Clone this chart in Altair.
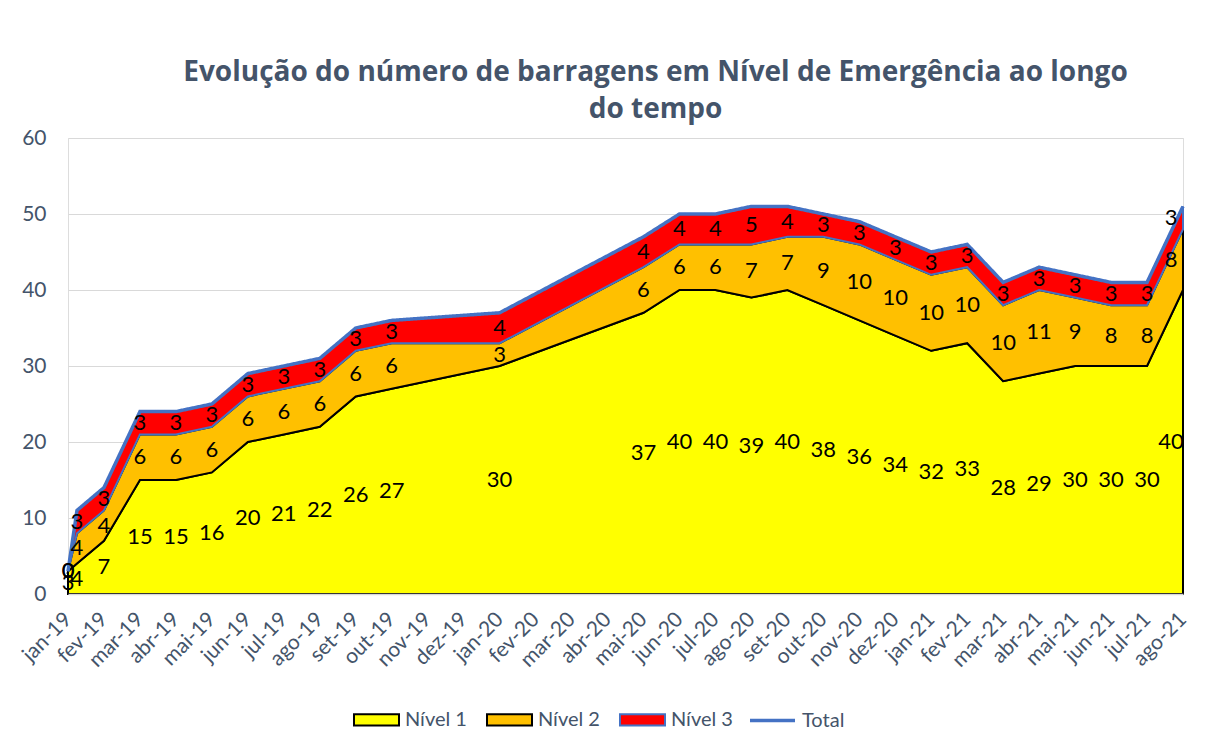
import altair as alt
import pandas as pd

# ---- data ----
meses = ['jan-19', 'fev-19', 'mar-19', 'abr-19', 'mai-19', 'jun-19', 'jul-19', 'ago-19',
         'set-19', 'out-19', 'nov-19', 'dez-19', 'jan-20', 'fev-20', 'mar-20', 'abr-20',
         'mai-20', 'jun-20', 'jul-20', 'ago-20', 'set-20', 'out-20', 'nov-20', 'dez-20',
         'jan-21', 'fev-21', 'mar-21', 'abr-21', 'mai-21', 'jun-21', 'jul-21', 'ago-21']

# position of each observation in months since jan-19
pos = [0, 0.25, 1, 2, 3, 4, 5, 6, 7, 8, 9, 12,
       16, 17, 18, 19, 20, 21, 22, 23, 24, 25, 26, 27, 28, 29, 30, 31]
nivel1 = [3, 4, 7, 15, 15, 16, 20, 21, 22, 26, 27, 30,
          37, 40, 40, 39, 40, 38, 36, 34, 32, 33, 28, 29, 30, 30, 30, 40]
nivel2 = [0, 4, 4, 6, 6, 6, 6, 6, 6, 6, 6, 3,
          6, 6, 6, 7, 7, 9, 10, 10, 10, 10, 10, 11, 9, 8, 8, 8]
nivel3 = [0, 3, 3, 3, 3, 3, 3, 3, 3, 3, 3, 4,
          4, 4, 4, 5, 4, 3, 3, 3, 3, 3, 3, 3, 3, 3, 3, 3]

series = ['Nível 1', 'Nível 2', 'Nível 3']
cores = ['#FFFF00', '#FFC000', '#FF0000']
bordas = ['#000000', '#000000', '#4472C4']
cor_total = '#4472C4'
cor_texto = '#44546A'

titulo = ['Evolução do número de barragens em Nível de Emergência ao longo', 'do tempo']

# ---- tables ----
rows = []
for i, p in enumerate(pos):
    base = 0
    for k, (s, v) in enumerate(zip(series, [nivel1[i], nivel2[i], nivel3[i]])):
        rows.append({'pos': p, 'serie': s, 'valor': v, 'meio': base + v / 2, 'ordem': k})
        base += v
df = pd.DataFrame(rows)
df_total = pd.DataFrame({'pos': pos,
                         'total': [a + b + c for a, b, c in zip(nivel1, nivel2, nivel3)],
                         'serie': 'Total'})

label_expr = '[' + ','.join("'%s'" % m for m in meses) + '][datum.value]'

x_enc = alt.X('pos:Q',
              scale=alt.Scale(domain=[0, 31], nice=False, zero=False),
              axis=alt.Axis(values=list(range(32)), labelExpr=label_expr, labelAngle=-45,
                            labelAlign='right', labelBaseline='middle', labelPadding=22,
                            labelOverlap=False, labelFlush=False, labelBound=False,
                            labelFont='Lato', labelFontSize=21, labelColor=cor_texto,
                            ticks=False, grid=False, domainColor='#D9D9D9', domainWidth=1.5,
                            title=None, zindex=1))
y_scale = alt.Scale(domain=[0, 60], nice=False)
y_axis = alt.Axis(values=list(range(0, 61, 10)), labelFont='Lato', labelFontSize=21,
                  labelColor=cor_texto, labelPadding=22, domain=False, ticks=False,
                  gridColor='#D9D9D9', gridWidth=1, title=None)

sym_rect = 'M-1,-0.25H1V0.25H-1Z'
sym_linha = 'M-1,0H1'

leg_niveis = alt.Legend(title=None, orient='none', legendX=285, legendY=558,
                        direction='horizontal', symbolType=sym_rect,
                        symbolSize=2025, symbolStrokeWidth=2,
                        labelFont='Lato', labelFontSize=20,
                        labelColor=cor_texto, labelOffset=5,
                        columnPadding=16, padding=0)

areas = alt.Chart(df).mark_area(strokeWidth=2, opacity=1).encode(
    x=x_enc,
    y=alt.Y('valor:Q', stack='zero', scale=y_scale, axis=y_axis),
    order=alt.Order('ordem:Q'),
    color=alt.Color('serie:N', scale=alt.Scale(domain=series, range=cores), legend=leg_niveis),
    stroke=alt.Stroke('serie:N', scale=alt.Scale(domain=series, range=bordas), legend=leg_niveis),
)

linha = alt.Chart(df_total).mark_line(strokeWidth=3.5).encode(
    x=x_enc,
    y=alt.Y('total:Q', scale=y_scale, axis=y_axis),
    strokeDash=alt.StrokeDash('serie:N', scale=alt.Scale(domain=['Total'], range=[[1, 0]]),
                              legend=alt.Legend(title=None, orient='none', legendX=680,
                                                legendY=558, symbolType=sym_linha,
                                                symbolSize=2025, symbolStrokeWidth=3.5,
                                                symbolStrokeColor=cor_total,
                                                labelFont='Lato', labelFontSize=20,
                                                labelColor=cor_texto, labelOffset=5,
                                                padding=0)),
    color=alt.value(cor_total),
)

rotulos = alt.Chart(df).transform_filter('datum.pos < 31').mark_text(
    font='Lato', fontSize=22, color='#000000', baseline='middle', align='center'
).encode(x=x_enc, y=alt.Y('meio:Q', scale=y_scale, axis=y_axis), text='valor:Q')

rotulos_fim = alt.Chart(df).transform_filter('datum.pos >= 31').mark_text(
    font='Lato', fontSize=22, color='#000000', baseline='middle', align='center', dx=-12
).encode(x=x_enc, y=alt.Y('meio:Q', scale=y_scale, axis=y_axis), text='valor:Q')

chart = alt.layer(areas, linha, rotulos, rotulos_fim).resolve_scale(
    color='independent', stroke='independent', strokeDash='independent'
).properties(
    width=1115, height=456,
    autosize=alt.AutoSizeParams(type='none'),
    padding={'left': 60, 'top': 130, 'right': 17, 'bottom': 150},
    title=alt.TitleParams(text=titulo, font='Open Sans', fontSize=28, fontWeight='bold',
                          color=cor_texto, anchor='middle', dx=30, offset=3, lineHeight=37),
).configure_view(stroke=None).configure(background='white')

chart.save('out.html', embed_options={'renderer': 'svg', 'actions': False})
